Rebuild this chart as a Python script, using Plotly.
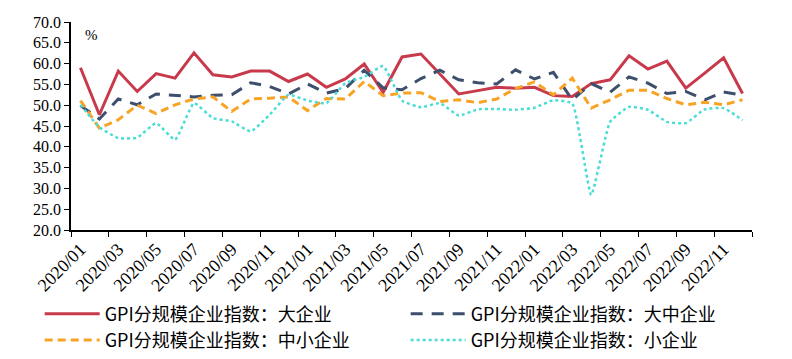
import plotly.graph_objects as go

months = [f"{y}/{m:02d}" for y in (2020, 2021, 2022) for m in range(1, 13)]

large = [59.0, 47.7, 58.2, 53.3, 57.6, 56.5, 62.6, 57.3, 56.8, 58.2, 58.2, 55.7,
         57.5, 54.3, 56.3, 59.9, 53.1, 61.6, 62.3, 57.5, 52.7, 53.5, 54.3, 54.1,
         54.3, 52.3, 52.1, 55.2, 56.1, 61.9, 58.7, 60.6, 54.1, 57.7, 61.4, 52.8]
large_mid = [49.9, 46.7, 51.5, 50.1, 52.7, 52.3, 52.0, 52.4, 52.5, 55.4, 54.5, 52.7,
             55.1, 52.9, 54.0, 58.4, 54.2, 53.7, 56.4, 58.4, 56.1, 55.4, 55.1, 58.5,
             56.3, 57.9, 51.3, 55.2, 53.1, 56.8, 55.3, 52.8, 53.3, 51.3, 53.2, 52.4]
small_mid = [51.1, 44.5, 46.5, 50.0, 48.0, 50.1, 51.5, 52.0, 48.5, 51.5, 51.7, 52.0,
             48.7, 51.6, 51.5, 55.7, 52.3, 52.9, 53.0, 50.9, 51.3, 50.6, 51.5, 54.0,
             55.6, 52.5, 56.5, 49.3, 51.3, 53.6, 53.6, 51.6, 50.1, 50.7, 50.1, 51.3]
small = [50.1, 44.7, 42.1, 42.2, 45.7, 41.7, 50.5, 46.9, 46.1, 43.7, 47.7, 52.5,
         51.1, 50.5, 55.3, 56.8, 59.4, 51.1, 49.5, 50.5, 47.5, 49.0, 49.1, 48.9,
         49.4, 51.2, 50.4, 28.4, 46.0, 49.6, 48.9, 46.0, 45.7, 49.0, 49.3, 46.4]

names = ["GPI分规模企业指数：大企业", "GPI分规模企业指数：大中企业",
         "GPI分规模企业指数：中小企业", "GPI分规模企业指数：小企业"]

SERIF = "Liberation Serif, DejaVu Serif, serif"

fig = go.Figure()
fig.add_trace(go.Scatter(x=months, y=large, name=names[0], mode="lines",
                         line=dict(color="#C83A4B", width=3)))
fig.add_trace(go.Scatter(x=months, y=large_mid, name=names[1], mode="lines",
                         line=dict(color="#3D4F6D", width=3, dash="12px,9px")))
fig.add_trace(go.Scatter(x=months, y=small_mid, name=names[2], mode="lines",
                         line=dict(color="#F7A323", width=3, dash="8px,5px")))
fig.add_trace(go.Scatter(x=months, y=small, name=names[3], mode="lines",
                         line=dict(color="#4ADCD6", width=2.5, dash="dot", shape="spline", smoothing=0.4)))

fig.update_layout(
    width=792, height=359,
    margin=dict(l=71, r=40, t=22, b=129, autoexpand=False),
    paper_bgcolor="white", plot_bgcolor="white",
    font=dict(family=SERIF, size=16, color="black"),
    showlegend=True,
    legend=dict(orientation="h", x=-0.046, xanchor="left", y=-0.315, yanchor="top",
                entrywidth=296, entrywidthmode="pixels", tracegroupgap=0, itemwidth=55,
                font=dict(family="Noto Sans CJK SC", size=18, color="black"),
                bgcolor="rgba(0,0,0,0)"),
    annotations=[dict(text="%", xref="paper", yref="paper", x=0.017, y=0.985,
                      xanchor="left", yanchor="top", showarrow=False,
                      font=dict(family="Liberation Sans Narrow", size=15, color="black"))],
)
fig.update_xaxes(type="category", range=[-0.5, 35.5], dtick=2, tickson="boundaries",
                 ticks="outside", ticklen=5, tickcolor="black", showline=True,
                 linecolor="black", linewidth=1.5, showgrid=False, tickangle=-45,
                 tickfont=dict(family=SERIF, size=18))
fig.update_yaxes(range=[20, 70], dtick=5, tickformat=".1f", ticks="outside", ticklen=5,
                 tickcolor="black", showline=True, linecolor="black", linewidth=1.5,
                 showgrid=False, zeroline=False,
                 tickfont=dict(family=SERIF, size=16))

fig.write_html("out.html", config={"displayModeBar": False},
               post_script="document.body.style.margin='0';document.body.style.overflow='hidden';")
